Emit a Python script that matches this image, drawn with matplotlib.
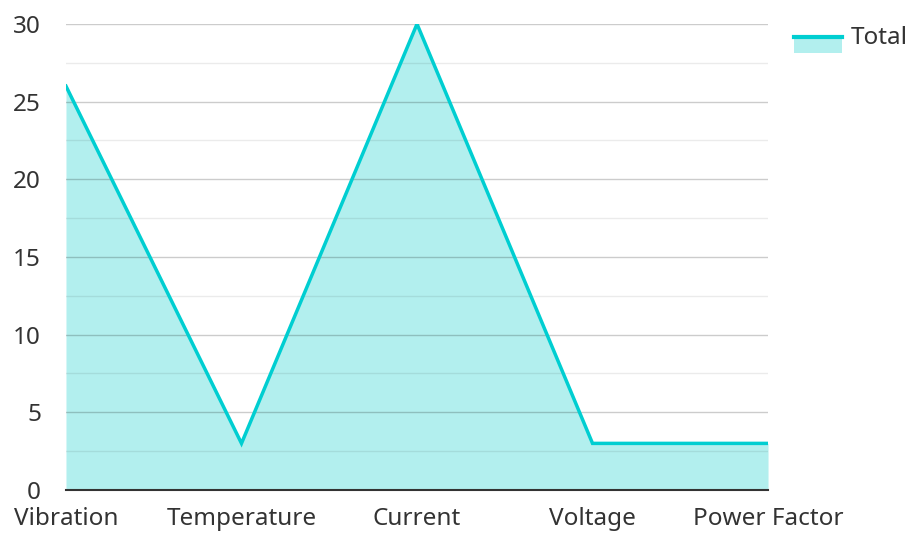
import matplotlib.pyplot as plt
from matplotlib.lines import Line2D
from matplotlib.patches import Patch, Rectangle
from matplotlib.ticker import MultipleLocator
from matplotlib.legend_handler import HandlerBase

categories = ['Vibration', 'Temperature', 'Current', 'Voltage', 'Power Factor']
total = [26, 3, 30, 3, 3]

line_color = '#00CED1'
fill_color = '#B2EFEE'

plt.rcParams['font.family'] = ['Noto Sans', 'DejaVu Sans']


class AreaHandler(HandlerBase):
    # filled box with the line along its top edge, sitting a bit below the text
    def create_artists(self, legend, orig_handle, xdescent, ydescent,
                       width, height, fontsize, trans):
        y0 = -ydescent - 0.5 * height
        rect = Rectangle((-xdescent, y0), width, height * 0.9,
                         facecolor=fill_color, edgecolor='none', transform=trans)
        top = y0 + 0.9 * height
        ln = Line2D([-xdescent, -xdescent + width], [top, top],
                    color=line_color, lw=3, transform=trans)
        return [rect, ln]


fig = plt.figure(figsize=(9.1, 5.33), dpi=100)
ax = fig.add_axes([0.0725, 0.0807, 0.7715, 0.8743])

x = range(len(categories))
ax.fill_between(x, total, 0, color=fill_color, lw=0, zorder=1)
ax.plot(x, total, color=line_color, lw=2.5, zorder=3, solid_joinstyle='miter')

ax.set_xlim(0, len(categories) - 1)
ax.set_ylim(0, 30)
ax.yaxis.set_major_locator(MultipleLocator(5))
ax.yaxis.set_minor_locator(MultipleLocator(2.5))
ax.grid(axis='y', which='major', color='#000000', alpha=0.2, lw=1, zorder=2)
ax.grid(axis='y', which='minor', color='#000000', alpha=0.08, lw=1, zorder=2)
ax.set_axisbelow(False)

ax.set_xticks(list(x))
ax.set_xticklabels(categories)
ax.tick_params(axis='both', which='both', length=0, labelsize=17.5, colors='#333333')
ax.tick_params(axis='x', pad=12)
ax.tick_params(axis='y', pad=18)

for side in ['top', 'right', 'left']:
    ax.spines[side].set_visible(False)
ax.spines['bottom'].set_color('#333333')
ax.spines['bottom'].set_linewidth(1.5)
ax.spines['bottom'].set_zorder(4)

leg = fig.legend([Patch()], ['Total'], loc='upper left', bbox_to_anchor=(0.848, 0.992),
                 frameon=False, fontsize=17.5, handlelength=2.0, handleheight=0.7,
                 handletextpad=0.35, handler_map={Patch: AreaHandler()})
for t in leg.get_texts():
    t.set_color('#333333')

fig.savefig('out.png', dpi=100)
